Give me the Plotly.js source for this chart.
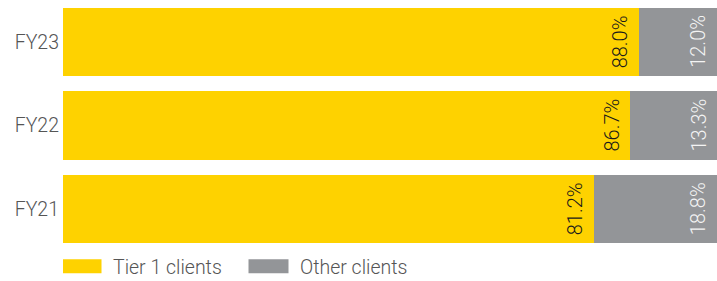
<!DOCTYPE html>
<html><head><meta charset="utf-8">
<script src="https://cdn.plot.ly/plotly-3.0.1.min.js"></script>
<style>html,body{margin:0;padding:0;background:#fff;}#chart{width:717px;height:281px;}</style>
</head><body><div id="chart"></div>
<script>
var categories = ['FY21', 'FY22', 'FY23'];
var tier1Values = [81.2, 86.7, 88.0];
var otherValues = [18.8, 13.3, 12.0];
var seriesNames = ['Tier 1 clients', 'Other clients'];

var FONT = 'Roboto, "Noto Sans", sans-serif';
function fmt(v){ return v.toFixed(1) + '%'; }

var traces = [
  {type:'bar', orientation:'h', name:seriesNames[0], y:categories, x:tier1Values,
   marker:{color:'#FED200'}, hoverinfo:'none'},
  {type:'bar', orientation:'h', name:seriesNames[1], y:categories, x:otherValues,
   marker:{color:'#939598'}, hoverinfo:'none'}
];

var annotations = [];
categories.forEach(function(c, i){
  annotations.push({x:tier1Values[i], y:c, xref:'x', yref:'y', text:fmt(tier1Values[i]),
    showarrow:false, textangle:-90, xanchor:'center', yanchor:'middle', xshift:-19,
    font:{family:FONT, size:20, color:'#1a1a1a', weight:300}});
  annotations.push({x:tier1Values[i] + otherValues[i], y:c, xref:'x', yref:'y', text:fmt(otherValues[i]),
    showarrow:false, textangle:-90, xanchor:'center', yanchor:'middle', xshift:-19,
    font:{family:FONT, size:20, color:'#f4f4f4', weight:300}});
});

var layout = {
  width:717, height:281,
  margin:{l:63, r:0, t:0, b:30, autoexpand:false},
  barmode:'stack', bargap:0.18,
  paper_bgcolor:'#fff', plot_bgcolor:'#fff',
  font:{family:FONT, color:'#555', size:19.5, weight:300},
  xaxis:{range:[0,100], visible:false, fixedrange:true},
  yaxis:{showgrid:false, zeroline:false, showline:false, ticks:'', ticklabelstandoff:3,
         tickfont:{family:FONT, size:19.5, color:'#555', weight:300}, fixedrange:true},
  annotations:annotations,
  showlegend:true,
  legend:{orientation:'h', x:0, xanchor:'left', y:-0.062, yanchor:'middle',
          font:{family:FONT, size:19.5, color:'#555', weight:300}, itemwidth:40,
          traceorder:'normal', entrywidth:132, entrywidthmode:'pixels', bgcolor:'rgba(0,0,0,0)'}
};

Plotly.newPlot('chart', traces, layout, {staticPlot:true, displayModeBar:false}).then(function(gd){
  gd.querySelectorAll('.legend .legendpoints path').forEach(function(p){
    p.setAttribute('d', 'M-26.5,7H13.5V-7H-26.5Z');
  });
});
</script></body></html>
